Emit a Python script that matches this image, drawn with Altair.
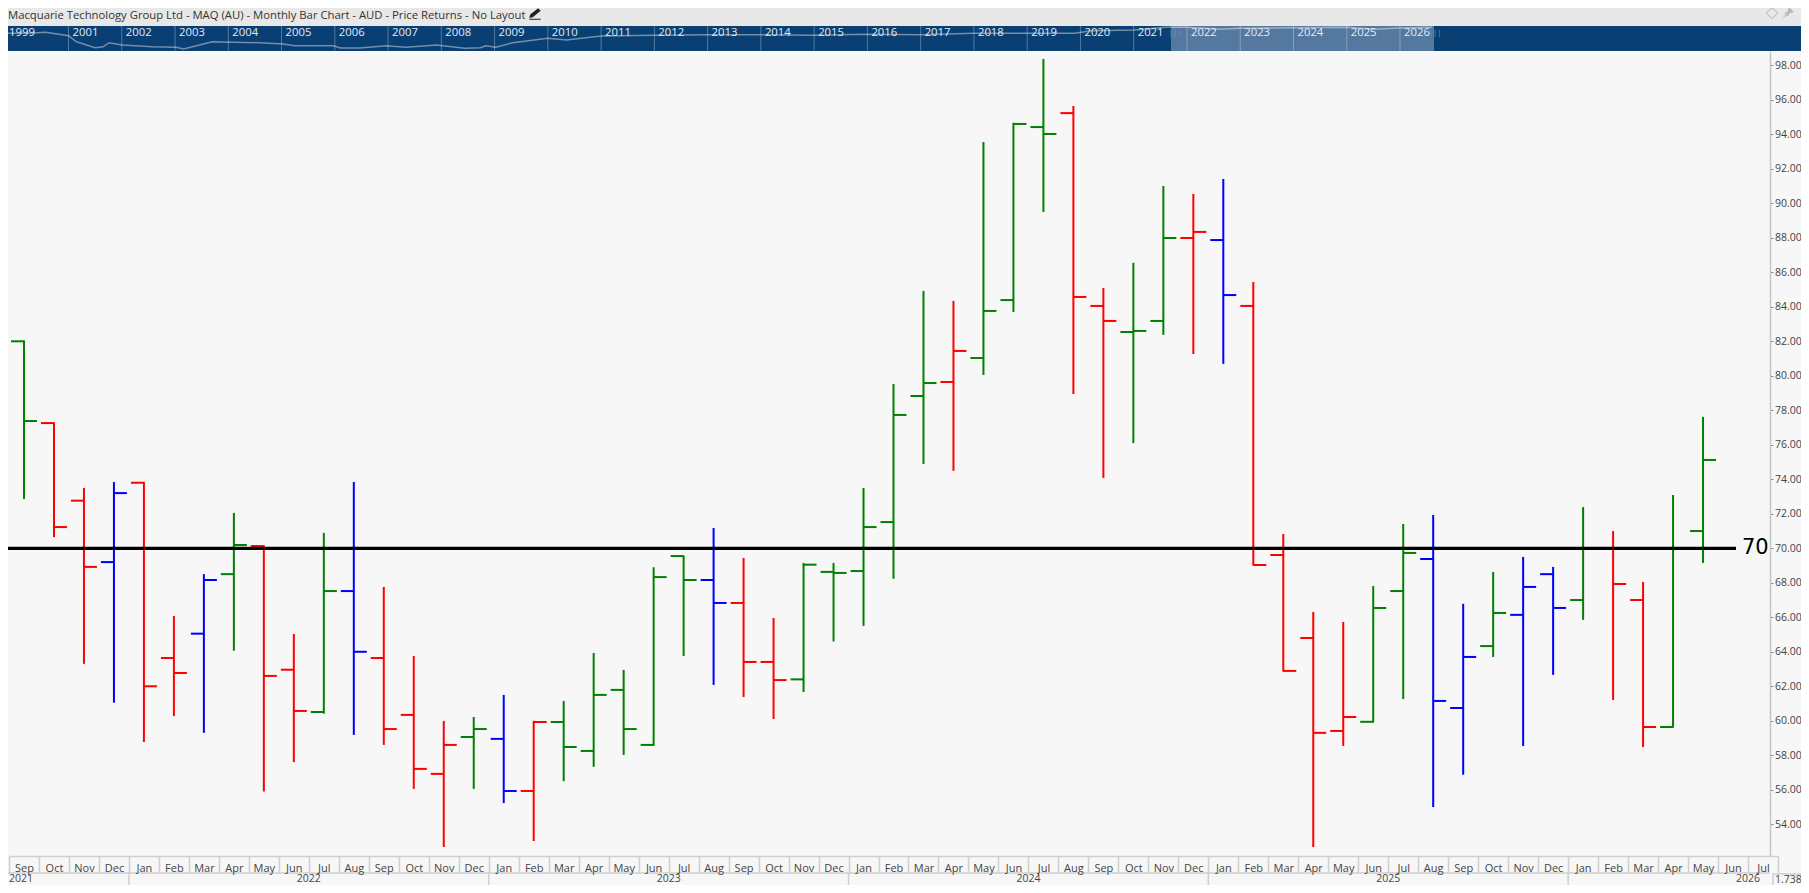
import altair as alt
import pandas as pd

months = [m + " " + y for y, ms in [
    ("2021", "Sep Oct Nov Dec"),
    ("2022", "Jan Feb Mar Apr May Jun Jul Aug Sep Oct Nov Dec"),
    ("2023", "Jan Feb Mar Apr May Jun Jul Aug Sep Oct Nov Dec"),
    ("2024", "Jan Feb Mar Apr May Jun Jul Aug Sep Oct Nov Dec"),
    ("2025", "Jan Feb Mar Apr May Jun Jul Aug Sep Oct Nov Dec"),
    ("2026", "Jan Feb Mar Apr May Jun Jul"),
] for m in ms.split()]

opens = [82.00, 77.26, 72.76, 69.20,
         73.80, 63.64, 65.05, 68.50, 70.13, 62.96, 60.51, 67.52, 63.64, 60.34, 56.92, 59.06,
         58.95, 55.93, 59.93, 58.25, 61.79, 58.60, 69.55, 68.16, 66.83, 63.41, 62.40, 68.63,
         68.68, 71.52, 78.83, 79.64, 81.03, 84.39, 94.42, 95.23, 84.05, 82.54, 83.18, 87.99,
         87.87, 84.05, 69.61, 64.80, 59.41, 59.94, 67.52, 69.38, 60.74, 64.33, 66.14, 68.50,
         67.00, 70.00, 67.00, 59.64, 71.00]
highs = [82.05, 77.30, 73.50, 73.84,
         73.84, 66.07, 68.50, 72.05, 70.17, 65.03, 70.89, 73.84, 67.76, 63.76, 59.99, 60.22,
         61.50, 60.00, 61.15, 63.93, 62.95, 68.90, 69.58, 71.18, 69.44, 65.96, 69.15, 69.15,
         73.50, 79.52, 84.92, 84.34, 93.55, 94.67, 98.37, 95.64, 85.09, 86.55, 91.00, 90.54,
         91.41, 85.44, 70.83, 66.31, 65.73, 67.81, 71.41, 71.93, 66.78, 68.63, 69.50, 68.92,
         72.39, 71.00, 68.05, 73.09, 77.62]
lows = [72.86, 70.65, 63.30, 61.05,
        58.77, 60.28, 59.30, 64.06, 55.90, 57.60, 60.41, 59.18, 58.60, 56.05, 52.68, 56.05,
        55.23, 53.03, 56.50, 57.33, 58.02, 58.55, 63.76, 62.08, 61.38, 60.10, 61.67, 64.60,
        65.50, 68.23, 74.89, 74.49, 80.05, 83.70, 89.50, 78.95, 74.08, 76.10, 82.37, 81.26,
        80.69, 69.00, 62.85, 52.68, 58.54, 59.90, 61.26, 55.00, 56.87, 63.70, 58.54, 62.66,
        65.85, 61.21, 58.48, 59.60, 69.15]
closes = [77.38, 71.23, 68.92, 73.20,
          62.00, 62.77, 68.16, 70.19, 62.60, 60.57, 67.52, 64.00, 59.52, 57.21, 58.60, 59.52,
          55.93, 59.93, 58.48, 61.50, 59.52, 68.33, 68.16, 66.83, 63.41, 62.36, 69.05, 68.57,
          71.23, 77.73, 79.58, 81.44, 83.76, 94.60, 94.02, 84.57, 83.18, 82.60, 87.99, 88.34,
          84.68, 69.03, 62.89, 59.30, 60.22, 66.54, 69.73, 61.15, 63.70, 66.25, 67.76, 66.54,
          70.00, 67.93, 59.64, 70.00, 75.12]
moves = list("grrb" "rrbgrrgbrrrg" "brgggggbrrgg" "gggrgggrrggr" "brrrrggbbgbb" "grrgg")

price_ticks = list(range(52, 100, 2))
level = 70
year_labels = ["2022", "2023", "2024", "2025", "2026"]
year_anchor = ["Jun 2022", "Jun 2023", "Jun 2024", "Jun 2025", "Jun 2026"]
year_starts = ["Jan 2022", "Jan 2023", "Jan 2024", "Jan 2025", "Jan 2026"]

# navigator strip along the top
nav_labels = ["1999"] + [str(y) for y in range(2001, 2027)]
nav_pos = [1999.81] + list(range(2001, 2027))
nav_years = [1999.71, 2000.28, 2000.57, 2001.0, 2001.15, 2001.5, 2001.65, 2001.76, 2002.01, 2002.58,
             2003.02, 2003.16, 2003.7, 2004.6, 2005.03, 2005.25, 2005.97, 2006.11, 2006.47, 2006.97,
             2007.33, 2007.91, 2008.44, 2008.73, 2008.84, 2009.02, 2009.34, 2010.0, 2010.35, 2011.0,
             2012.0, 2013.0, 2014.0, 2015.0, 2016.0, 2017.0, 2018.0, 2019.0, 2019.9, 2020.2, 2021.0,
             2021.6, 2022.0, 2022.6, 2023.0, 2024.0, 2025.0, 2025.5, 2026.0, 2026.6]
nav_prices = [71, 71, 75, 61, 37, 13, 17, 33, 24, 17, 15, 8, 37, 33, 28, 21, 21, 12, 12, 21,
              15, 24, 11, 13, 21, 15, 33, 51, 44, 60, 63, 65, 65, 63, 67, 65, 71, 71, 71, 81, 84,
              95, 95, 87, 91, 93, 95, 87, 92, 95]

df = pd.DataFrame({"month": months[:len(opens)], "open": opens, "high": highs,
                   "low": lows, "close": closes, "move": moves})
one = pd.DataFrame({"a": [0]})

font = "Open Sans"
bg = "#f7f7f7"
line_grey = "#cfcfcf"
W, H = 1762, 805
TOTAL_W, TOTAL_H = 1793, 834
ROW2 = 822

x_scale = alt.Scale(domain=months, range=[1, 1770], paddingInner=0, paddingOuter=0)
y_scale = alt.Scale(domain=[52.16, 98.83], nice=False, zero=False)
colour = alt.Color("move:N", legend=None,
                   scale=alt.Scale(domain=["g", "r", "b"], range=["#008000", "#ff0000", "#0000ff"]))

# every layer gets the same axis objects so they merge into one
x_axis = alt.Axis(zindex=1, tickBand="extent", tickSize=ROW2 - H, tickWidth=1.5, tickColor=line_grey,
                  domainColor=line_grey, domainWidth=1.5, labelAngle=0, labelOverlap=False,
                  labelExpr="slice(datum.label, 0, 3)", labelFont=font, labelFontSize=11,
                  labelColor="#444444", labelPadding=-4.5, labelBaseline="middle", title=None)
y_axis = alt.Axis(orient="right", values=price_ticks, format=".2f", tickSize=3, tickColor="#888888",
                  domainColor="#c4c4c4", domainWidth=1.5, grid=False, labelFont=font, labelOverlap=False,
                  labelFontSize=10.5, labelColor="#444444", labelPadding=1.5, title=None)


def month_x(field):
    return alt.X(field + ":O", scale=x_scale, sort=None, axis=x_axis)


def price_y(field):
    return alt.Y(field + ":Q", scale=y_scale, axis=y_axis)


stems = alt.Chart(df).mark_rule(strokeWidth=2, clip=True).encode(
    x=month_x("month"), y=price_y("low"), y2="high:Q", color=colour)
open_ticks = alt.Chart(df).mark_tick(orient="horizontal", size=13, thickness=2, xOffset=-6.5, clip=True, opacity=1).encode(
    x=month_x("month"), y=price_y("open"), color=colour)
close_ticks = alt.Chart(df).mark_tick(orient="horizontal", size=13, thickness=2, xOffset=6.5, clip=True, opacity=1).encode(
    x=month_x("month"), y=price_y("close"), color=colour)

level_df = pd.DataFrame({"level": [level], "label": [str(level)]})
level_rule = alt.Chart(level_df).mark_rule(color="black", strokeWidth=3.3).encode(
    y=price_y("level"), x=alt.value(0), x2=alt.value(1728))
level_text = alt.Chart(level_df).mark_text(font="DejaVu Sans", fontSize=21, align="left", baseline="middle", color="black").encode(
    y=price_y("level"), x=alt.value(1734), text="label:N")

# date rows under the plot
strip = alt.Chart(one).mark_rect(color=bg).encode(
    x=alt.value(0), x2=alt.value(TOTAL_W), y=alt.value(H), y2=alt.value(TOTAL_H))
row_line = alt.Chart(one).mark_rule(color=line_grey, strokeWidth=1.5).encode(
    x=alt.value(0), x2=alt.value(W), y=alt.value(ROW2))
year_df = pd.DataFrame({"year": year_labels, "anchor": year_anchor, "start": year_starts})
year_text = alt.Chart(year_df).mark_text(font=font, fontSize=10.5, dx=15, color="#444444").encode(
    x=month_x("anchor"), y=alt.value(828), text="year:N")
first_year = alt.Chart(pd.DataFrame({"year": ["2021"], "anchor": [months[0]]})).mark_text(
    font=font, fontSize=10.5, dx=-15, align="left", color="#444444").encode(
    x=month_x("anchor"), y=alt.value(828), text="year:N")
year_seps = alt.Chart(year_df).mark_rule(color=line_grey, strokeWidth=1.5, xOffset=-15).encode(
    x=month_x("start"), y=alt.value(ROW2), y2=alt.value(TOTAL_H))

main = alt.layer(stems, open_ticks, close_ticks, strip, row_line, year_seps, year_text, first_year, level_rule, level_text)

# header bar, navigator and bits round the edges
nav_x = alt.Scale(domain=[2001, 2026], range=[60.5, 1392], nice=False, zero=False)
nav_y = alt.Scale(domain=[0, 100], range=[0, -25], nice=False, zero=False)
nav_df = pd.DataFrame({"label": nav_labels, "pos": nav_pos})
line_df = pd.DataFrame({"year": nav_years, "price": nav_prices})

header = alt.Chart(one).mark_rect(color="#e8e8e8").encode(
    x=alt.value(0), x2=alt.value(TOTAL_W), y=alt.value(-43), y2=alt.value(-25))
title = alt.Chart(pd.DataFrame({"t": ["Macquarie Technology Group Ltd - MAQ (AU) - Monthly Bar Chart - AUD - Price Returns - No Layout"]})).mark_text(
    font=font, fontSize=11.3, align="left", color="#333333").encode(
    x=alt.value(0), y=alt.value(-35), text="t:N")
pencil = alt.Chart(one).mark_point(
    shape="M0.55,-1 L1,-0.55 L-0.4,0.55 L-1,0.7 L-0.85,0.1 Z M-1,1 L1,1 L1,0.85 L-1,0.85 Z",
    filled=True, size=130, color="#222222", opacity=1).encode(x=alt.value(527), y=alt.value(-37))
diamond = alt.Chart(one).mark_point(shape="diamond", size=130, color="#b8b8b8", strokeWidth=1.2).encode(
    x=alt.value(1764), y=alt.value(-38))
pin = alt.Chart(one).mark_point(
    shape="M0.2,-1 L1,-0.2 L0.65,0 L0.3,-0.05 L0,0.6 L-0.6,0 L0,-0.3 L-0.05,-0.65 Z M-0.35,0.15 L-1,1 L-0.15,0.35 Z",
    filled=True, size=130, color="#b8b8b8", opacity=1).encode(x=alt.value(1780), y=alt.value(-38))
navy = alt.Chart(one).mark_rect(color="#0a3f73").encode(
    x=alt.value(0), x2=alt.value(TOTAL_W), y=alt.value(-25), y2=alt.value(0))
window = alt.Chart(one).mark_rect(color="#55789f").encode(
    x=alt.value(1163), x2=alt.value(1426), y=alt.value(-25), y2=alt.value(0))
nav_seps = alt.Chart(nav_df).transform_filter("datum.label != '1999'").mark_rule(
    color="white", strokeOpacity=0.3, strokeWidth=1).encode(
    x=alt.X("pos:Q", scale=nav_x, axis=None), y=alt.value(-25), y2=alt.value(0))
nav_line = alt.Chart(line_df).mark_line(color="white", strokeOpacity=0.42, strokeWidth=1.5).encode(
    x=alt.X("year:Q", scale=nav_x, axis=None), y=alt.Y("price:Q", scale=nav_y, axis=None))
nav_text = alt.Chart(nav_df).mark_text(font=font, fontSize=11.3, align="left", dx=4, color="#e4eaf1").encode(
    x=alt.X("pos:Q", scale=nav_x, axis=None), y=alt.value(-18), text="label:N")
handles = alt.Chart(pd.DataFrame({"h": ["|||", "|||"], "px": [1167, 1427]})).mark_text(
    fontSize=8, font=font, color="#7f8fa3").encode(x=alt.X("px:Q", scale=alt.Scale(domain=[0, W], range=[0, W]), axis=None), y=alt.value(-18), text="h:N")
cover = alt.Chart(one).mark_rect(color=bg).encode(
    x=alt.value(W + 0.8), x2=alt.value(TOTAL_W), y=alt.value(H - 1), y2=alt.value(ROW2))
reading_box = alt.Chart(one).mark_rect(fill=bg, stroke=line_grey, strokeWidth=1.5).encode(
    x=alt.value(1765), x2=alt.value(1800), y=alt.value(ROW2 + 1), y2=alt.value(840))
reading = alt.Chart(pd.DataFrame({"t": ["1.738"]})).mark_text(font=font, fontSize=10.5, align="left", color="#444444").encode(
    x=alt.value(1767), y=alt.value(828.5), text="t:N")

chrome = alt.layer(header, title, pencil, diamond, pin, navy, window, nav_seps, nav_line, nav_text).resolve_scale(x="shared")

chart = alt.layer(main, chrome, handles, cover, reading_box, reading).resolve_scale(
    x="independent", y="independent", color="independent"
).properties(
    width=W, height=H, background=bg,
    padding={"left": 0, "top": 43, "right": TOTAL_W - W, "bottom": TOTAL_H - H},
    autosize=alt.AutoSizeParams(type="none"),
).configure_view(stroke=None)

chart.save("out.html", embed_options={"renderer": "svg", "actions": False})
